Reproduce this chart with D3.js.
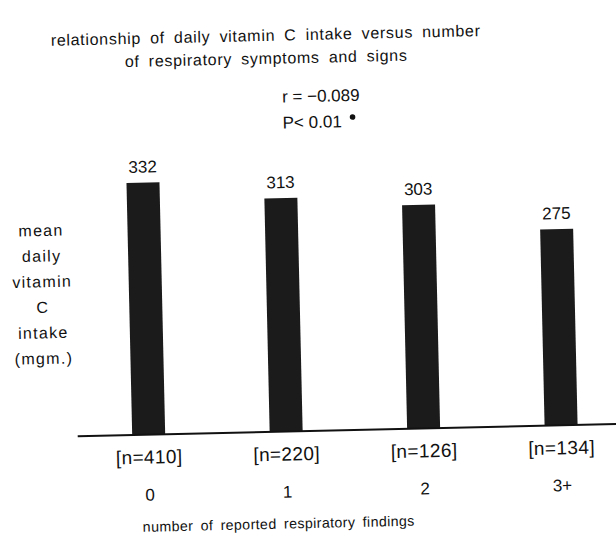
<!DOCTYPE html>
<html>
<head>
<meta charset="utf-8">
<script src="https://cdn.jsdelivr.net/npm/d3@7"></script>
<style>
  body { margin: 0; background: #fff; }
  svg text { font-family: "Liberation Sans", Arial, sans-serif; fill: #111; }
</style>
</head>
<body>
<div id="content"></div>
<script>
// data
const categories = ['0', '1', '2', '3+'];
const intake = [332, 313, 303, 275];
const counts = ['[n=410]', '[n=220]', '[n=126]', '[n=134]'];
const titleLines = [
  'relationship of daily vitamin C intake versus number',
  'of respiratory symptoms and signs',
];
const yLabelLines = ['mean', 'daily', 'vitamin', 'C', 'intake', '(mgm.)'];
const statLines = ['r = \u22120.089', 'P< 0.01'];
const xTitle = 'number of reported respiratory findings';

const width = 616, height = 539;
const baseY = 431;

const svg = d3.select('#content').append('svg')
  .attr('width', width)
  .attr('height', height);

// the scan is slightly tilted, so draw everything in a rotated group
const g = svg.append('g')
  .attr('transform', 'rotate(-1.3, 308, 270)');

const x = d3.scaleBand()
  .domain(categories)
  .range([76.25, 626.25])
  .paddingInner(0.76)
  .paddingOuter(0.38);

// axis doesn't start at zero in the original
const y = d3.scaleLinear()
  .domain([75, 335])
  .range([baseY, 176]);

// title
g.append('g').selectAll('text')
  .data(titleLines)
  .join('text')
  .attr('x', 271)
  .attr('y', (d, i) => 40 + i * 23)
  .attr('text-anchor', 'middle')
  .attr('font-size', 16)
  .attr('word-spacing', 4)
  .attr('letter-spacing', 0.7)
  .text(d => d);

// r / P annotation
const stat = g.append('g');
stat.selectAll('text')
  .data(statLines)
  .join('text')
  .attr('x', 286)
  .attr('y', (d, i) => 102 + i * 26)
  .attr('font-size', 17)
  .text(d => d);
stat.append('circle')
  .attr('cx', 356)
  .attr('cy', 118)
  .attr('r', 2.8)
  .attr('fill', '#111');

// y label, stacked words
g.append('g').selectAll('text')
  .data(yLabelLines)
  .join('text')
  .attr('x', 42)
  .attr('y', (d, i) => 230 + i * 25.6)
  .attr('text-anchor', 'middle')
  .attr('font-size', 16)
  .attr('letter-spacing', 1.3)
  .text(d => d);

// bars
g.append('g').selectAll('rect')
  .data(intake)
  .join('rect')
  .attr('x', (d, i) => x(categories[i]))
  .attr('y', d => y(d))
  .attr('width', x.bandwidth())
  .attr('height', d => baseY - y(d))
  .attr('fill', '#1b1b1b');

// value labels
g.append('g').selectAll('text')
  .data(intake)
  .join('text')
  .attr('x', (d, i) => x(categories[i]) + x.bandwidth() / 2)
  .attr('y', d => y(d) - 10)
  .attr('text-anchor', 'middle')
  .attr('font-size', 17)
  .text(d => d);

// baseline
g.append('line')
  .attr('x1', 74).attr('x2', 640)
  .attr('y1', baseY).attr('y2', baseY)
  .attr('stroke', '#111')
  .attr('stroke-width', 2);

// n counts and category labels under the bars
g.append('g').selectAll('text')
  .data(counts)
  .join('text')
  .attr('x', (d, i) => x(categories[i]) + x.bandwidth() / 2)
  .attr('y', baseY + 29)
  .attr('text-anchor', 'middle')
  .attr('font-size', 19)
  .attr('letter-spacing', 0.4)
  .text(d => d);

g.append('g').selectAll('text')
  .data(categories)
  .join('text')
  .attr('x', d => x(d) + x.bandwidth() / 2)
  .attr('y', baseY + 66)
  .attr('text-anchor', 'middle')
  .attr('font-size', 17)
  .text(d => d);

g.append('text')
  .attr('x', 273)
  .attr('y', 528)
  .attr('text-anchor', 'middle')
  .attr('font-size', 14.2)
  .attr('word-spacing', 3)
  .attr('letter-spacing', 0.4)
  .text(xTitle);
</script>
</body>
</html>
